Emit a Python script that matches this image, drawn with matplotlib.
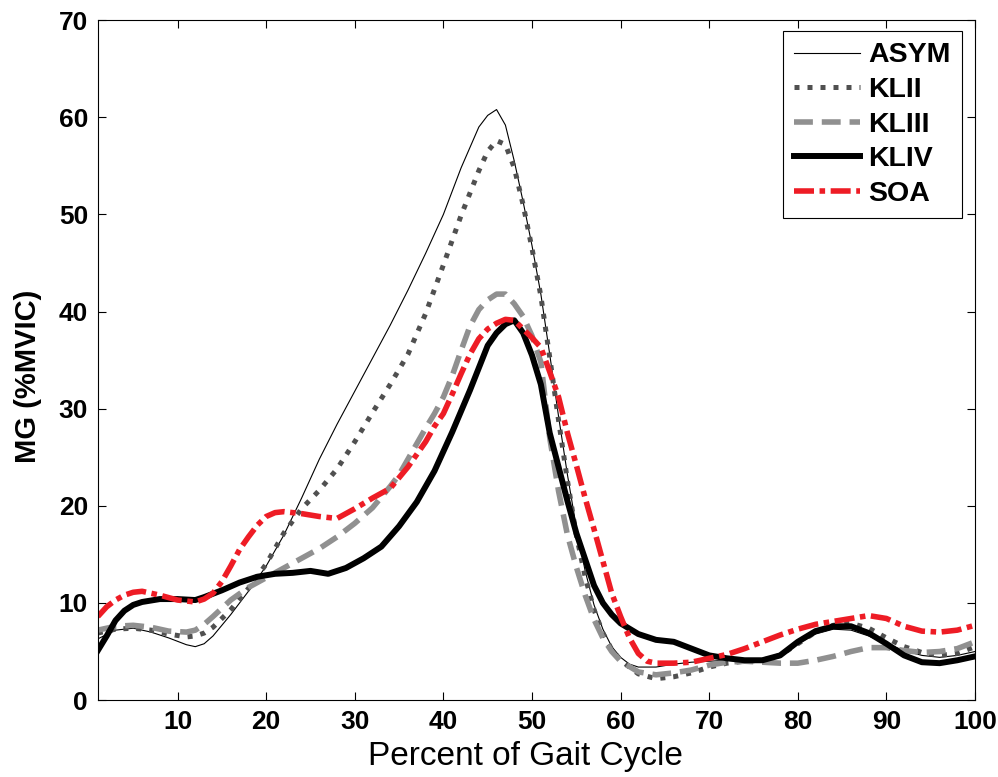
import matplotlib
matplotlib.use("Agg")
import matplotlib.pyplot as plt

plt.rcParams["font.family"] = ["Liberation Sans", "DejaVu Sans"]

# percent of gait cycle / MG activation (%MVIC)
asym_x = [1, 3, 5, 7, 9, 11, 12, 13, 14, 16, 18, 20, 22, 24, 26, 27, 28, 30, 32, 34, 36, 38,
          40, 42, 44, 45, 46, 47, 48, 49, 50, 51, 52, 53, 54, 55, 56, 57, 58, 59, 60, 61, 62,
          64, 66, 68, 70, 72, 74, 76, 78, 80, 82, 84, 86, 88, 90, 92, 94, 96, 98, 100]
asym_y = [6.3, 7.2, 7.4, 7.0, 6.4, 5.7, 5.5, 5.8, 6.6, 8.8, 11.2, 13.8, 17.0, 20.8, 24.8, 26.6,
          28.4, 31.8, 35.2, 38.6, 42.2, 46.0, 50.0, 54.8, 59.0, 60.2, 60.8, 59.2, 55.5, 51.3,
          46.8, 41.8, 35.6, 29.2, 23.2, 17.8, 13.3, 9.8, 7.3, 5.5, 4.4, 3.7, 3.4,
          3.4, 3.7, 3.9, 4.0, 4.1, 4.1, 4.2, 4.8, 5.8, 6.8, 7.3, 7.2, 6.6, 5.8, 5.1, 4.6, 4.4,
          4.6, 5.0]

klii_x = [1, 3, 5, 7, 9, 11, 12, 13, 14, 16, 18, 20, 22, 24, 26, 28, 30, 32, 34, 36, 38, 40,
          42, 44, 45, 46, 47, 48, 49, 50, 51, 52, 53, 54, 55, 56, 57, 58, 59, 60, 62, 64, 66,
          68, 70, 72, 74, 76, 78, 80, 82, 84, 86, 88, 90, 92, 94, 96, 98, 100]
klii_y = [6.9, 7.3, 7.4, 7.2, 6.8, 6.5, 6.6, 6.9, 7.5, 9.3, 11.5, 14.0, 17.2, 19.7, 21.6, 23.8,
          26.6, 29.6, 32.5, 35.6, 39.8, 44.8, 49.9, 54.5, 56.5, 57.6, 57.2, 54.8, 51.0, 46.5,
          41.6, 35.3, 28.8, 22.6, 17.0, 12.7, 9.3, 6.9, 5.2, 4.1, 2.7, 2.2, 2.4, 2.8, 3.4, 3.8,
          4.0, 4.1, 4.6, 5.8, 7.0, 7.7, 7.9, 7.4, 6.4, 5.5, 4.9, 4.6, 4.8, 5.5]

kliii_x = [1, 3, 5, 7, 9, 11, 12, 13, 14, 16, 18, 20, 22, 24, 26, 28, 30, 32, 34, 35, 36, 37,
           38, 39, 40, 41, 42, 43, 44, 45, 46, 47, 48, 49, 50, 51, 52, 53, 54, 55, 56, 57, 58,
           59, 60, 62, 64, 66, 68, 70, 72, 74, 76, 78, 80, 82, 84, 86, 88, 90, 92, 94, 96, 98,
           100]
kliii_y = [7.2, 7.6, 7.7, 7.5, 7.1, 7.0, 7.2, 7.8, 8.6, 10.3, 11.6, 12.6, 13.6, 14.6, 15.6,
           16.8, 18.2, 19.8, 22.0, 23.2, 24.8, 26.4, 28.0, 29.5, 31.2, 33.4, 36.0, 38.5, 40.2,
           41.2, 41.8, 41.8, 40.8, 39.5, 37.5, 34.8, 27.0, 21.5, 17.0, 13.7, 10.8, 8.3, 6.4,
           5.0, 4.0, 2.9, 2.6, 2.8, 3.1, 3.6, 3.9, 4.0, 3.9, 3.8, 3.8, 4.1, 4.5, 5.0, 5.4, 5.4,
           5.1, 4.9, 5.0, 5.3, 6.0]

kliv_x = [1, 2, 3, 4, 5, 6, 8, 10, 12, 13, 15, 17, 19, 21, 23, 25, 27, 29, 31, 33, 35, 37, 39,
          41, 43, 45, 46, 47, 48, 49, 50, 51, 52, 53, 54, 55, 56, 57, 58, 59, 60, 62, 64, 66,
          68, 70, 72, 74, 76, 78, 80, 82, 84, 86, 88, 90, 92, 94, 96, 98, 100]
kliv_y = [5.1, 6.6, 8.2, 9.2, 9.8, 10.1, 10.4, 10.4, 10.3, 10.6, 11.3, 12.1, 12.7, 13.0, 13.1,
          13.3, 13.0, 13.6, 14.6, 15.8, 17.9, 20.4, 23.6, 27.6, 31.9, 36.5, 37.8, 38.7, 39.1,
          37.8, 35.5, 32.5, 27.5, 24.0, 20.5, 17.2, 14.5, 11.8, 10.0, 8.8, 7.9, 6.8, 6.2, 6.0,
          5.3, 4.6, 4.3, 4.1, 4.1, 4.6, 6.0, 7.1, 7.6, 7.6, 6.9, 5.8, 4.6, 3.9, 3.8, 4.1, 4.5]

soa_x = [1, 2, 3, 4, 5, 6, 8, 10, 12, 13, 14, 15, 16, 17, 18, 19, 20, 21, 22, 24, 26, 28, 30,
         32, 34, 35, 36, 37, 38, 39, 40, 41, 42, 43, 44, 45, 46, 47, 48, 49, 50, 51, 52, 53,
         54, 55, 56, 57, 58, 59, 60, 61, 62, 63, 64, 66, 68, 70, 72, 74, 76, 78, 80, 82, 84,
         86, 88, 90, 92, 94, 96, 98, 100]
soa_y = [8.6, 9.6, 10.3, 10.8, 11.1, 11.2, 10.8, 10.3, 10.1, 10.4, 11.0, 12.2, 13.8, 15.5,
         16.8, 18.0, 18.9, 19.3, 19.4, 19.2, 18.9, 18.7, 19.7, 20.8, 21.8, 22.9, 24.0, 25.3,
         26.6, 28.2, 29.5, 31.5, 33.6, 35.6, 37.2, 38.2, 38.8, 39.2, 39.1, 38.2, 37.3, 36.3,
         33.8, 31.2, 27.5, 24.2, 20.8, 17.6, 14.3, 11.0, 8.6, 6.4, 4.8, 4.0, 3.8, 3.8, 3.9,
         4.3, 4.7, 5.3, 6.0, 6.7, 7.3, 7.8, 8.1, 8.4, 8.7, 8.4, 7.6, 7.1, 7.0, 7.2, 7.7]

x_ticks = [10, 20, 30, 40, 50, 60, 70, 80, 90, 100]
y_ticks = [0, 10, 20, 30, 40, 50, 60, 70]

fig = plt.figure(figsize=(9.98, 7.77), dpi=100)
ax = fig.add_axes([0.098, 0.099, 0.879, 0.875])

ax.plot(asym_x, asym_y, color="black", lw=0.8, label="ASYM")
ax.plot(klii_x, klii_y, color="#505050", lw=3.6, dashes=(1, 1.6), label="KLII")
ax.plot(kliii_x, kliii_y, color="#909090", lw=4.0, dashes=(3.4, 1.6), label="KLIII")
ax.plot(kliv_x, kliv_y, color="black", lw=4.3, label="KLIV")
ax.plot(soa_x, soa_y, color="#ee1c25", lw=4.0, dashes=(3.6, 1.0, 1.0, 1.0), label="SOA")

ax.set_xlim(1, 100)
ax.set_ylim(0, 70)
ax.set_xticks(x_ticks)
ax.set_yticks(y_ticks)
ax.tick_params(direction="in", length=6, width=0.8, top=True, right=True, pad=7,
               labelsize=19)
for lbl in ax.get_xticklabels() + ax.get_yticklabels():
    lbl.set_fontweight("bold")
for sp in ax.spines.values():
    sp.set_linewidth(0.8)

ax.set_xlabel("Percent of Gait Cycle", fontsize=24)
ax.xaxis.set_label_coords(0.487, -0.06)
ax.set_ylabel("MG (%MVIC)", fontsize=21, fontweight="bold")
ax.yaxis.set_label_coords(-0.064, 0.476)

leg = ax.legend(loc="upper right", bbox_to_anchor=(0.985, 0.984),
                prop={"weight": "bold", "size": 20.5}, fancybox=False, framealpha=1,
                edgecolor="black", handlelength=2.3, handletextpad=0.3,
                labelspacing=0.3, borderpad=0.4, borderaxespad=0)
leg.get_frame().set_linewidth(0.8)

fig.savefig("out.png", dpi=100)
